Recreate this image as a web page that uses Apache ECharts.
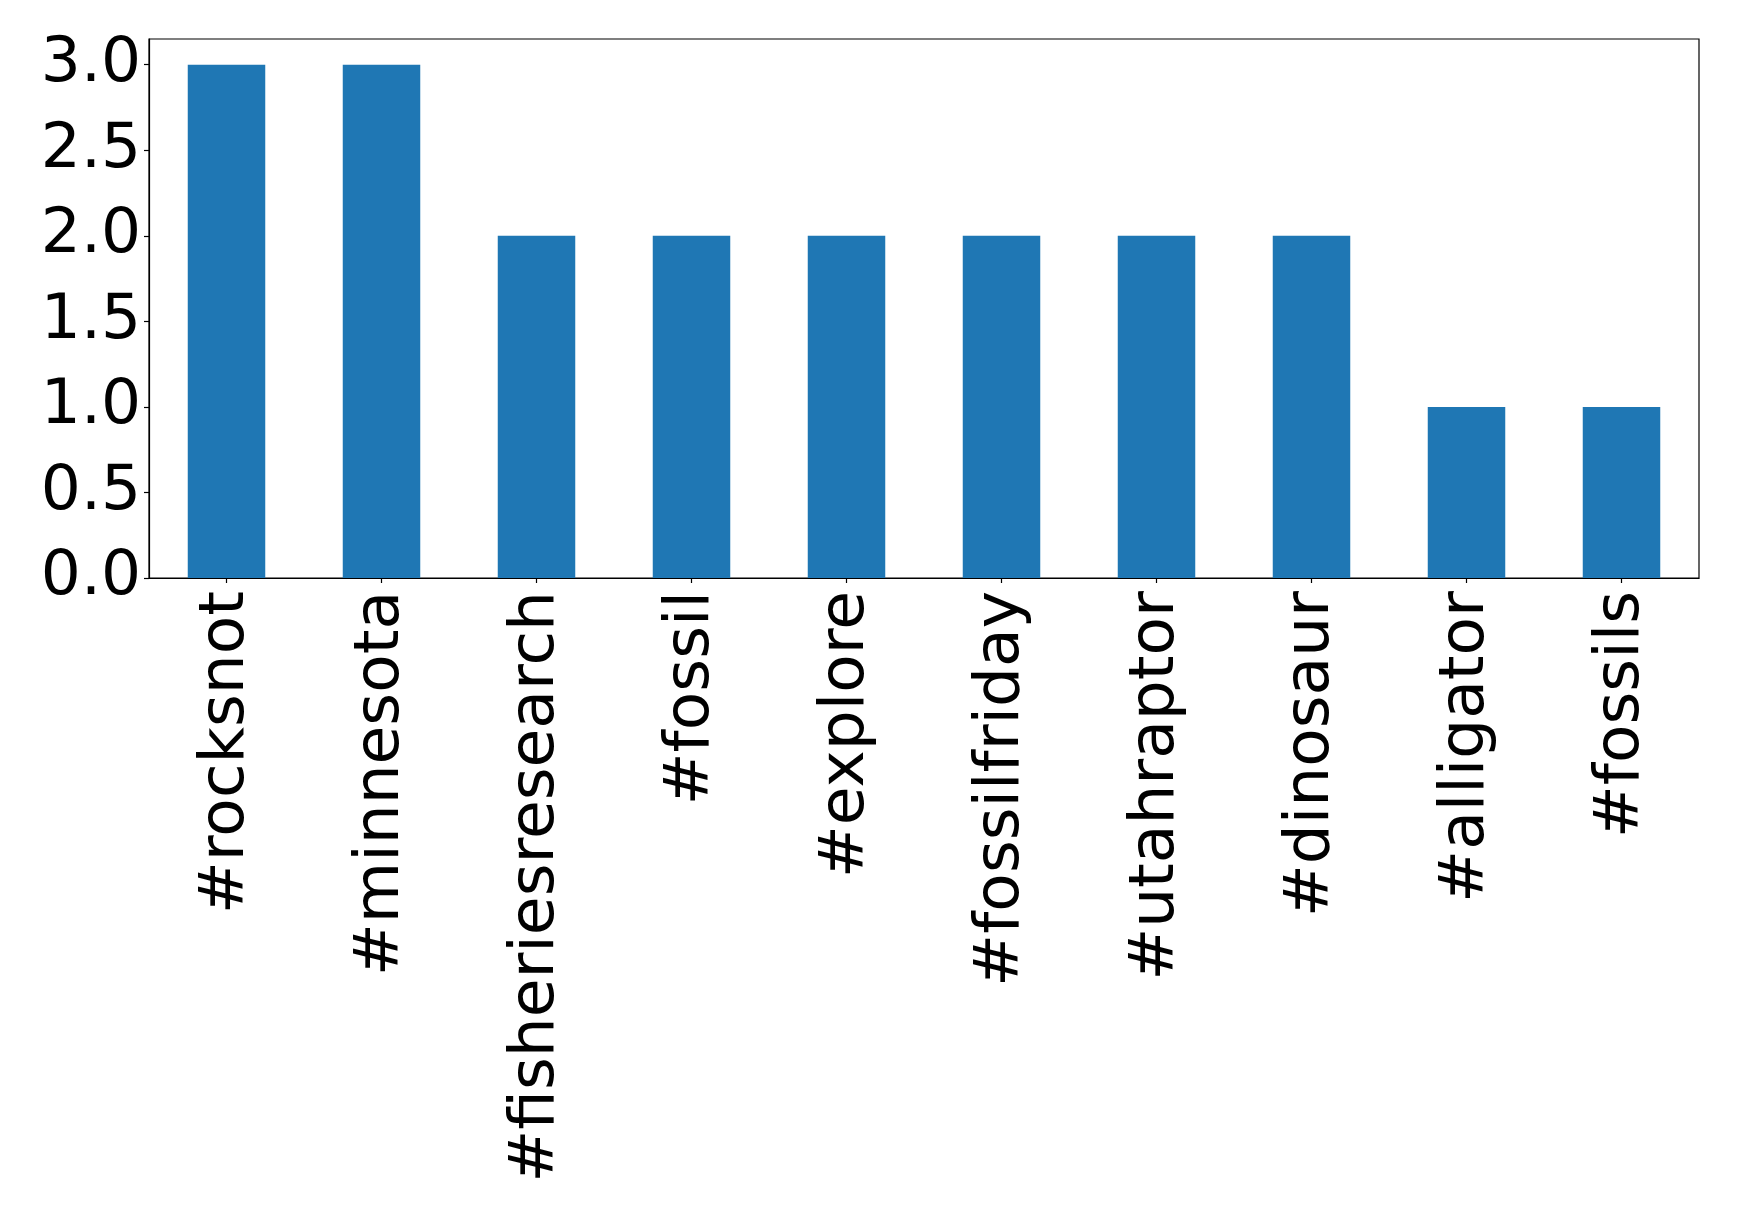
<!DOCTYPE html>
<html>
<head>
<meta charset="utf-8">
<script src="https://cdn.jsdelivr.net/npm/echarts@6/dist/echarts.min.js"></script>
<style>html,body{margin:0;padding:0;background:#fff}#chart{width:1739px;height:1215px}</style>
</head>
<body>
<div id="chart"></div>
<script>
const categories = ['#rocksnot', '#minnesota', '#fisheriesresearch', '#fossil', '#explore', '#fossilfriday', '#utahraptor', '#dinosaur', '#alligator', '#fossils'];
const counts = [3, 3, 2, 2, 2, 2, 2, 2, 1, 1];
const yTicks = [0, 0.5, 1.0, 1.5, 2.0, 2.5, 3.0];

const chart = echarts.init(document.getElementById('chart'), null, {renderer: 'canvas'});
const font = 'DejaVu Sans';
chart.setOption({
  animation: false,
  backgroundColor: '#fff',
  grid: {left: 149, right: 40, top: 39, bottom: 637, containLabel: false,
         show: true, borderColor: '#000', borderWidth: 1.2, backgroundColor: 'transparent'},
  xAxis: {
    type: 'category',
    data: categories,
    boundaryGap: true,
    axisLine: {show: true, lineStyle: {color: '#000', width: 1.2}},
    axisTick: {show: true, alignWithLabel: true, length: 5, lineStyle: {color: '#000', width: 1.2}},
    axisLabel: {rotate: 90, interval: 0, margin: 13, fontSize: 63, fontFamily: font, color: '#000',
                padding: [9, 0, 0, 0]},
    splitLine: {show: false}
  },
  yAxis: {
    type: 'value',
    min: 0,
    max: 3.15,
    axisLine: {show: true, lineStyle: {color: '#000', width: 1.2}},
    axisTick: {show: true, length: 5, customValues: yTicks, lineStyle: {color: '#000', width: 1.2}},
    axisLabel: {margin: 8, fontSize: 63, fontFamily: font, color: '#000',
                customValues: yTicks, formatter: v => Number(v).toFixed(1)},
    splitLine: {show: false}
  },
  series: [{
    type: 'bar',
    data: counts,
    barWidth: '50%',
    itemStyle: {color: '#1f77b4'}
  }]
});
</script>
</body>
</html>
